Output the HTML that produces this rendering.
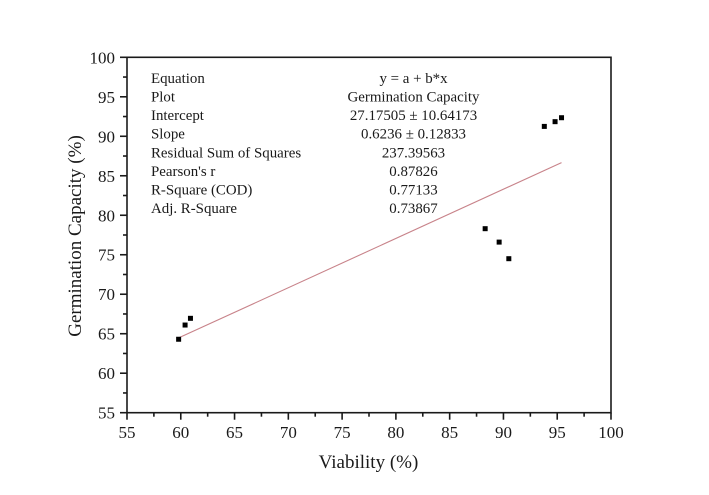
<!DOCTYPE html>
<html lang="en">
<head>
<meta charset="utf-8">
<title>Germination Capacity vs Viability</title>
<style>
html,body{margin:0;padding:0;background:#fff;width:709px;height:495px;overflow:hidden}
svg{display:block;font-family:"Liberation Serif",serif;fill:#1a1a1a}
</style>
</head>
<body>
<svg id="chart" width="709" height="495" viewBox="0 0 709 495">
<g id="grid-layer"></g>
<g id="table-layer"></g>
<g id="mark-layer"></g>
<text x="368.5" y="468" font-size="19" text-anchor="middle">Viability (%)</text>
<text transform="translate(81,236) rotate(-90)" font-size="19" text-anchor="middle">Germination Capacity (%)</text>
</svg>
<script>
const xTicks = [55, 60, 65, 70, 75, 80, 85, 90, 95, 100];
const yTicks = [55, 60, 65, 70, 75, 80, 85, 90, 95, 100];
const xMinorTicks = [57.5, 62.5, 67.5, 72.5, 77.5, 82.5, 87.5, 92.5, 97.5];
const yMinorTicks = [57.5, 62.5, 67.5, 72.5, 77.5, 82.5, 87.5, 92.5, 97.5];
const viability = [59.8, 60.4, 60.9, 88.3, 89.6, 90.5, 93.8, 94.8, 95.4];
const germination = [64.3, 66.1, 66.95, 78.3, 76.6, 74.5, 91.25, 91.85, 92.35];
const fitIntercept = 27.17505;
const fitSlope = 0.6236;
const tableLabels = ["Equation", "Plot", "Intercept", "Slope", "Residual Sum of Squares", "Pearson's r", "R-Square (COD)", "Adj. R-Square"];
const tableValues = ["y = a + b*x", "Germination Capacity", "27.17505 ± 10.64173", "0.6236 ± 0.12833", "237.39563", "0.87826", "0.77133", "0.73867"];

const NS = "http://www.w3.org/2000/svg";
const xScale = v => 127 + (v - 55) * (611 - 127) / 45;
const yScale = v => 412.7 - (v - 55) * (412.7 - 57.3) / 45;

function make(tag, attrs, parent, text) {
  const el = document.createElementNS(NS, tag);
  for (const k in attrs) el.setAttribute(k, attrs[k]);
  if (text !== undefined) el.textContent = text;
  parent.appendChild(el);
  return el;
}

const axes = document.getElementById("grid-layer");
const table = document.getElementById("table-layer");
const marks = document.getElementById("mark-layer");
const axisStroke = { stroke: "#1a1a1a", "stroke-width": 1.6, fill: "none" };

const frame = make("rect", Object.assign({ x: xScale(55), y: yScale(100), width: xScale(100) - xScale(55), height: yScale(55) - yScale(100) }, axisStroke), axes);



xTicks.forEach(v => {
  const t = make("line", Object.assign({ x1: xScale(v), x2: xScale(v), y1: yScale(55), y2: yScale(55) + 7 }, axisStroke), axes);
  
  
  const l = make("text", { x: xScale(v), y: 438, "font-size": 17, "text-anchor": "middle" }, axes, v);
  
  
});
xMinorTicks.forEach(v => {
  const t = make("line", Object.assign({ x1: xScale(v), x2: xScale(v), y1: yScale(55), y2: yScale(55) + 4 }, axisStroke), axes);
  
  
});
yTicks.forEach(v => {
  const t = make("line", Object.assign({ x1: xScale(55) - 7, x2: xScale(55), y1: yScale(v), y2: yScale(v) }, axisStroke), axes);
  
  
  const l = make("text", { x: 115, y: yScale(v) + 6, "font-size": 17, "text-anchor": "end" }, axes, v);
  
  
});
yMinorTicks.forEach(v => {
  const t = make("line", Object.assign({ x1: xScale(55) - 4, x2: xScale(55), y1: yScale(v), y2: yScale(v) }, axisStroke), axes);
  
  
});

tableLabels.forEach((s, i) => {
  const l = make("text", { x: 151, y: 83 + i * 18.57, "font-size": 14.9 }, table, s);
  
  
});
tableValues.forEach((s, i) => {
  const l = make("text", { x: 413.5, y: 83 + i * 18.57, "font-size": 14.9, "text-anchor": "middle" }, table, s);
  
  
});

const xFitStart = Math.min(...viability);
const xFitEnd = Math.max(...viability);
const fitLine = make("line", {
  x1: xScale(xFitStart), y1: yScale(fitIntercept + fitSlope * xFitStart),
  x2: xScale(xFitEnd), y2: yScale(fitIntercept + fitSlope * xFitEnd),
  stroke: "#c8838a", "stroke-width": 1.1
}, marks);



viability.forEach((v, i) => {
  const p = make("rect", { x: xScale(v) - 2.5, y: yScale(germination[i]) - 2.5, width: 5, height: 5, fill: "#000" }, marks);
  
  
});
</script>
</body>
</html>
